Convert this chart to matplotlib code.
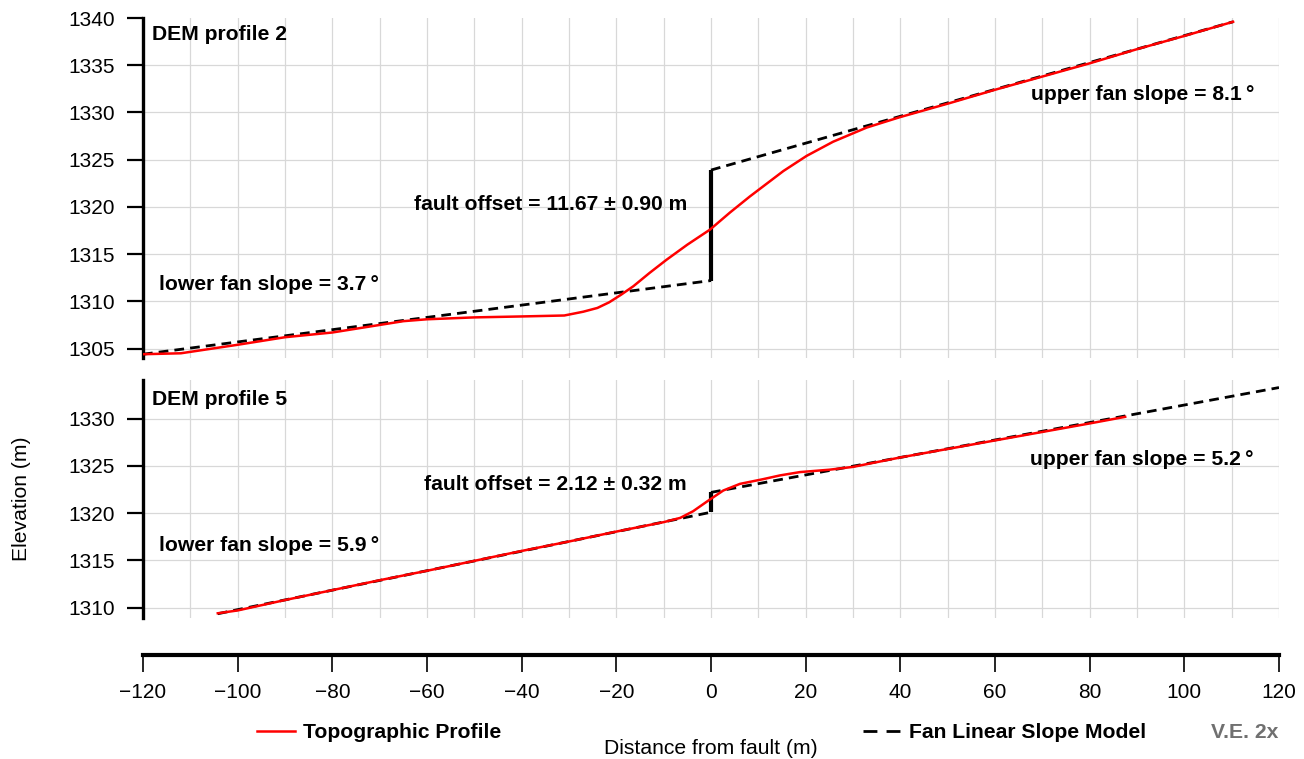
import matplotlib.pyplot as plt
from matplotlib.lines import Line2D

plt.rcParams['font.family'] = ['Liberation Sans', 'DejaVu Sans']

# ---- DEM profile 2 ----
P2_X = [-120, -112, -100, -90, -80, -70, -65, -60, -50, -40, -31, -27, -24, -21.5,
        -19, -16.4, -13, -9.4, -5, -0.2, 4, 8.2, 15.3, 20.2, 25.8, 32.9, 39.9,
        50.5, 60, 70, 80, 90, 100, 110.3]
P2_Y = [1304.4, 1304.5, 1305.4, 1306.2, 1306.7, 1307.5, 1307.9, 1308.1, 1308.3,
        1308.4, 1308.5, 1308.9, 1309.3, 1309.9, 1310.7, 1311.6, 1313.0, 1314.4,
        1316.0, 1317.6, 1319.4, 1321.1, 1323.8, 1325.4, 1326.9, 1328.4, 1329.5,
        1331.0, 1332.4, 1333.8, 1335.2, 1336.7, 1338.1, 1339.6]
LOWER2_X = [-120, 0]
LOWER2_Y = [1304.4, 1312.2]
UPPER2_X = [0, 110.3]
UPPER2_Y = [1323.9, 1339.6]

# ---- DEM profile 5 ----
P5_X = [-104.2, -100, -90, -80, -70, -60, -50, -40, -30, -20, -10, -6.5, -3.8,
        -0.8, 2.6, 6.1, 11, 14.6, 18.8, 25, 30, 40, 50, 60, 70, 80, 87.5]
P5_Y = [1309.4, 1309.7, 1310.8, 1311.85, 1312.9, 1313.9, 1314.95, 1316.0, 1317.0,
        1318.05, 1319.05, 1319.5, 1320.2, 1321.25, 1322.4, 1323.1, 1323.6, 1324.0,
        1324.35, 1324.6, 1324.9, 1325.9, 1326.8, 1327.7, 1328.6, 1329.5, 1330.2]
LOWER5_X = [-104.2, 0]
LOWER5_Y = [1309.35, 1320.1]
UPPER5_X = [0, 120]
UPPER5_Y = [1322.2, 1333.3]

X_TICKS = list(range(-120, 121, 20))
GRID_X = list(range(-120, 121, 10))

RED = '#ff0000'
GRID = '#d8d8d8'
DASH = (3.5, 2.2)
FS = 15.2

fig = plt.figure(figsize=(13.04, 7.59), dpi=100)
ax1 = fig.add_axes([143/1304, 1 - 358/759, 1136/1304, 340/759])
ax2 = fig.add_axes([143/1304, 1 - 618/759, 1136/1304, 238/759])
axx = fig.add_axes([143/1304, 1 - 655/759, 1136/1304, 0.0001])


def style_panel(ax, ylim, yticks):
    ax.set_xlim(-120, 120)
    ax.set_ylim(*ylim)
    ax.set_yticks(yticks)
    ax.set_xticks(GRID_X)
    ax.tick_params(axis='x', length=0, labelbottom=False)
    ax.tick_params(axis='y', direction='out', length=11.5, width=1.6,
                   pad=9, labelsize=15)
    for s in ['top', 'right', 'bottom']:
        ax.spines[s].set_visible(False)
    ax.spines['left'].set_linewidth(2.4)
    ax.grid(True, color=GRID, linewidth=0.9)
    ax.set_axisbelow(True)


style_panel(ax1, (1304, 1340), list(range(1305, 1341, 5)))
ax1.yaxis.get_gridlines()[-1].set_visible(False)
style_panel(ax2, (1308.9, 1334.1), list(range(1310, 1331, 5)))

for ax, lx, ly, ux, uy, px, py in [
        (ax1, LOWER2_X, LOWER2_Y, UPPER2_X, UPPER2_Y, P2_X, P2_Y),
        (ax2, LOWER5_X, LOWER5_Y, UPPER5_X, UPPER5_Y, P5_X, P5_Y)]:
    ax.plot(lx, ly, color='black', lw=2, dashes=DASH, zorder=3)
    ax.plot(ux, uy, color='black', lw=2, dashes=DASH, zorder=3)
    ax.vlines(lx[-1], ly[-1], uy[0], color='black', lw=3, zorder=3)
    ax.plot(px, py, color=RED, lw=1.8, zorder=4)

bold = dict(fontsize=FS, fontweight='bold')
ax1.text(-118.1, 1337.7, 'DEM profile 2', **bold)
ax1.text(-116.6, 1311.2, 'lower fan slope = 3.7\u2009°', **bold)
ax1.text(-5.1, 1319.7, 'fault offset = 11.67 ± 0.90 m', ha='right', **bold)
ax1.text(114.7, 1331.3, 'upper fan slope = 8.1\u2009°', ha='right', **bold)

ax2.text(-118.1, 1331.5, 'DEM profile 5', **bold)
ax2.text(-116.6, 1316.0, 'lower fan slope = 5.9\u2009°', **bold)
ax2.text(-5.1, 1322.5, 'fault offset = 2.12 ± 0.32 m', ha='right', **bold)
ax2.text(114.7, 1325.1, 'upper fan slope = 5.2\u2009°', ha='right', **bold)

# separate distance axis
axx.set_xlim(-120, 120)
axx.set_xticks(X_TICKS)
axx.set_yticks([])
for s in ['top', 'right', 'left']:
    axx.spines[s].set_visible(False)
axx.spines['bottom'].set_linewidth(3)
axx.tick_params(axis='x', direction='out', length=12.5, width=1.2,
                pad=8, labelsize=15)
axx.patch.set_visible(False)

fig.text(22/1304, 1 - 499/759, 'Elevation (m)', rotation=90,
         ha='center', va='center', fontsize=FS)
fig.text(711/1304, 1 - 748/759, 'Distance from fault (m)',
         ha='center', va='center', fontsize=FS)

h_topo = Line2D([], [], color=RED, lw=1.8)
h_model = Line2D([], [], color='black', lw=2, dashes=(5, 3.3))
leg1 = fig.legend([h_topo], ['Topographic Profile'], loc='center left',
                  bbox_to_anchor=(257/1304, 1 - 733/759), frameon=False,
                  borderpad=0, borderaxespad=0, handlelength=1.8,
                  handletextpad=0.4, prop=dict(size=FS, weight='bold'))
leg2 = fig.legend([h_model], ['Fan Linear Slope Model'], loc='center left',
                  bbox_to_anchor=(863/1304, 1 - 733/759), frameon=False,
                  borderpad=0, borderaxespad=0, handlelength=1.8,
                  handletextpad=0.4, prop=dict(size=FS, weight='bold'))
fig.text(1278/1304, 1 - 733/759, 'V.E. 2x', ha='right', va='center',
         fontsize=FS, fontweight='bold', color='#707070')

fig.savefig('out.png', dpi=100)
